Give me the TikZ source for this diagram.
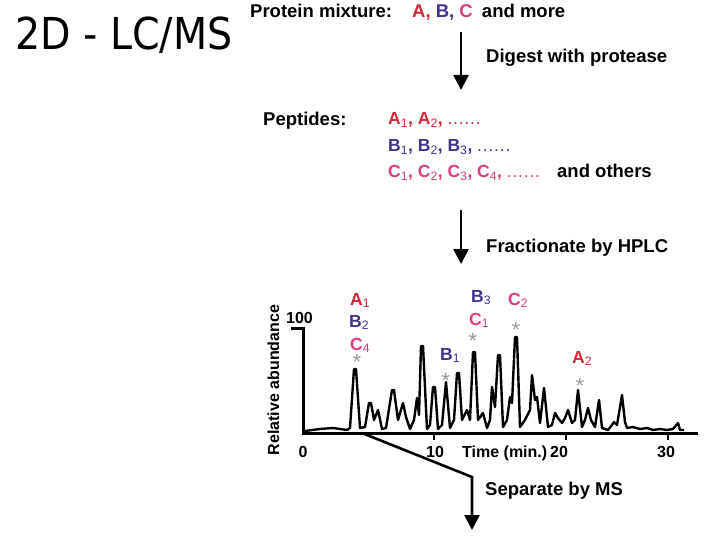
\documentclass[tikz,border=0pt]{standalone}
\usepackage{fontspec}
\setmainfont{Liberation Sans}
\newfontfamily\titlefont{DejaVu Sans Condensed}
\usetikzlibrary{arrows.meta}
\definecolor{pepA}{RGB}{210,40,55}
\definecolor{pepB}{RGB}{65,50,140}
\definecolor{pepC}{RGB}{220,60,130}
\newcommand{\sub}[1]{\textsubscript{\mdseries #1}}
\newcommand{\etc}{{\mdseries.\kern.8pt.\kern.8pt.\kern.8pt.\kern.8pt.\kern.8pt.}}
\newcommand{\setup}{
    \coordinate (a0) at (461,32);   % digest arrow
    \coordinate (a1) at (461,90);
    \coordinate (b0) at (461,210);  % hplc arrow
    \coordinate (b1) at (461,264);
    \coordinate (c0) at (362,433);  % ms arrow
    \coordinate (c1) at (472,477);
    \coordinate (c2) at (472,530);

    \coordinate (o)  at (303,433);  % chart origin
    \coordinate (yt) at (303,328);
    \coordinate (xt) at (698,433);
}

\begin{document}
\begin{tikzpicture}[x=1pt,y=-1pt]
    \tikzstyle{every node}=[inner sep=0pt,anchor=base west,font=\bfseries\fontsize{18.5}{20}\selectfont]
    \tikzset{pep/.style={font=\bfseries\fontsize{17.5}{19}\selectfont},
             ax/.style={font=\bfseries\fontsize{16}{18}\selectfont},
             star/.style={anchor=north,text=black!40,font=\fontsize{22}{22}\selectfont},
             flow/.style={line width=2.6pt,-{Triangle[width=15pt,length=15pt]}}}
    \useasboundingbox (0,0) rectangle (720,540);
    \setup;

    \node[font=\titlefont\fontsize{44}{48}\selectfont] (title) at (15,50) {2D - LC/MS};

    \node (mix) at (250,18) {Protein mixture:};
    \node (abc) at (412,18) {{\color{pepA}A,} {\color{pepB}B,} {\color{pepC}C}\hspace{4pt} and more};
    \draw[flow] (a0) -- (a1);
    \node (dig) at (486,63) {Digest with protease};

    \node (pep) at (263,126) {Peptides:};
    \node[pep,text=pepA] (la) at (388,125) {A\sub{1}, A\sub{2}, \etc};
    \node[pep,text=pepB] (lb) at (388,152) {B\sub{1}, B\sub{2}, B\sub{3}, \etc};
    \node[pep,text=pepC] (lc) at (388,178) {C\sub{1}, C\sub{2}, C\sub{3}, C\sub{4}, \etc};
    \node (oth) at (557,178) {and others};

    \draw[flow] (b0) -- (b1);
    \node (hplc) at (486,252) {Fractionate by HPLC};

    % chromatogram
    \draw[line width=3pt] (291,328) -- (yt) -- (o) -- (xt);
    \foreach \t in {434,566,668}
        \draw[line width=1.8pt] (\t,433) -- (\t,440);
    \draw[line width=2.4pt,line join=round] plot coordinates {
        (305,431) (320,429) (333,428) (347,430) (350,428) (354,369) (356,369) (360,428)
        (365,427) (369,403) (371,403) (374,420) (378,410) (382,429) (386,428) (392,390)
        (394,390) (398,420) (403,403) (406,417) (410,429) (414,420) (417,398) (419,415)
        (421,346) (423,346) (427,429) (430,425) (433,387) (435,387) (438,429) (442,425) (446,382)
        (450,428) (454,420) (457,373) (459,373) (462,420) (467,410) (470,420) (473,352) (475,352)
        (478,420) (483,413) (487,428) (490,420) (492,387) (495,407) (498,355) (500,355)
        (503,427) (507,420) (510,397) (512,403) (515,337) (517,337) (520,427) (525,420)
        (530,410) (532,375) (535,400) (537,397) (540,423) (544,388) (548,427)
        (552,425) (555,413) (558,418) (562,423) (565,418) (568,410) (572,423)
        (575,420) (578,390) (582,427) (585,420) (588,408) (591,420) (595,427)
        (599,400) (602,428) (608,430) (612,425) (614,422) (617,425) (619,413)
        (622,395) (625,422) (627,428) (633,427) (640,429) (647,428) (653,430)
        (660,429) (667,430) (673,429) (678,423) (680,430) (684,430)};

    \node[ax,rotate=90,anchor=base] (yl) at (279,380) {Relative abundance};
    \node[ax,anchor=base east] (y100) at (313,323) {100};
    \node[ax,anchor=base] (x0)  at (303,457) {0};
    \node[ax,anchor=base] (x10) at (435,457) {10};
    \node[ax,anchor=base] (x20) at (559,457) {20};
    \node[ax,anchor=base] (x30) at (666,457) {30};
    \node[ax] (xl) at (462,457) {Time (min.)};

    \node[pep,text=pepA] (pa1) at (350,305) {A\sub{1}};
    \node[pep,text=pepB] (pb2) at (349,327) {B\sub{2}};
    \node[pep,text=pepC] (pc4) at (350,350) {C\sub{4}};
    \node[star] (s1) at (357,354) {*};
    \node[pep,text=pepB] (pb3) at (471,302) {B\sub{3}};
    \node[pep,text=pepC] (pc1) at (469,325) {C\sub{1}};
    \node[star] (s2) at (473,333) {*};
    \node[pep,text=pepC] (pc2) at (508,305) {C\sub{2}};
    \node[star] (s3) at (516,322) {*};
    \node[pep,text=pepB] (pb1) at (440,360) {B\sub{1}};
    \node[star] (s4) at (446,373) {*};
    \node[pep,text=pepA] (pa2) at (572,363) {A\sub{2}};
    \node[star] (s5) at (580,378) {*};

    \draw[flow] (c0) -- (c1) -- (c2);
    \node (ms) at (485,495) {Separate by MS};
\end{tikzpicture}
\end{document}
